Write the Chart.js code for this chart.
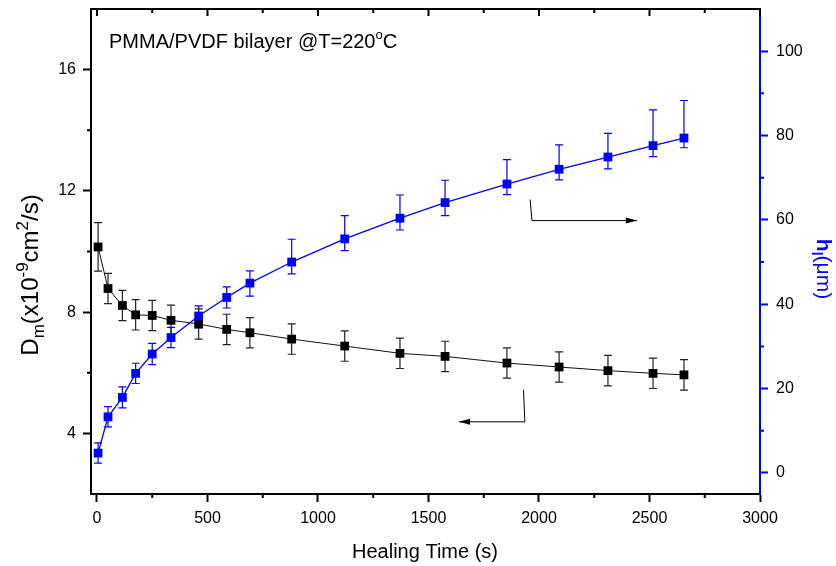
<!DOCTYPE html>
<html>
<head>
<meta charset="utf-8">
<script src="https://cdn.jsdelivr.net/npm/chart.js@4"></script>
<style>
  html, body { margin: 0; padding: 0; background: #fff; }
</style>
</head>
<body>
<canvas id="healChart" width="836" height="566"></canvas>
<script>
  // healing time (s)
  const healTime = [5, 50, 115, 175, 250, 335, 460, 587, 692, 881, 1121, 1371, 1575, 1855, 2091, 2312, 2516, 2656];
  // D_m (x10^-9 cm^2/s), left axis
  const diffCoef = [10.15, 8.78, 8.22, 7.91, 7.89, 7.73, 7.61, 7.43, 7.32, 7.11, 6.88, 6.64, 6.54, 6.32, 6.19, 6.07, 5.98, 5.93];
  const diffErr = [0.8, 0.5, 0.5, 0.5, 0.5, 0.5, 0.5, 0.5, 0.5, 0.5, 0.5, 0.5, 0.5, 0.5, 0.5, 0.5, 0.5, 0.5];
  // h_l (um), right axis
  const healDepth = [4.7, 13.3, 17.9, 23.6, 28.2, 32.1, 37.2, 41.6, 45.0, 50.0, 55.5, 60.4, 64.1, 68.5, 72.0, 74.9, 77.6, 79.4];
  const depthErrUp = [2.4, 2.4, 2.5, 2.4, 2.5, 2.4, 2.4, 2.5, 2.9, 5.4, 5.5, 5.5, 5.3, 5.8, 5.8, 5.6, 8.5, 8.9];
  const depthErrDown = [2.4, 2.4, 2.5, 2.4, 2.5, 2.4, 2.8, 2.5, 3.1, 2.8, 2.8, 2.8, 3.1, 2.5, 2.5, 2.8, 2.6, 2.3];

  const xTicks = [0, 500, 1000, 1500, 2000, 2500, 3000];
  const leftTicks = [4, 8, 12, 16];
  const rightTicks = [0, 20, 40, 60, 80, 100];

  const FONT = "'Liberation Sans', Arial, sans-serif";
  const BLUE = '#0000ff';

  // error bars per dataset index
  const errors = {
    0: { up: depthErrUp, down: depthErrDown, color: BLUE, axis: 'y2' },
    1: { up: diffErr, down: diffErr, color: '#222', axis: 'y' }
  };

  const errorBars = {
    id: 'errorBars',
    beforeDatasetsDraw(chart) {
      const ctx = chart.ctx;
      const xs = chart.scales.x;
      Object.keys(errors).forEach(function (k) {
        const e = errors[k];
        const ds = chart.data.datasets[k];
        const ys = chart.scales[e.axis];
        ctx.save();
        ctx.strokeStyle = e.color;
        ctx.lineWidth = 1.2;
        ds.data.forEach(function (p, i) {
          const x = xs.getPixelForValue(p.x);
          const y1 = ys.getPixelForValue(p.y + e.up[i]);
          const y2 = ys.getPixelForValue(p.y - e.down[i]);
          ctx.beginPath();
          ctx.moveTo(x, y1); ctx.lineTo(x, y2);
          ctx.moveTo(x - 4, y1); ctx.lineTo(x + 4, y1);
          ctx.moveTo(x - 4, y2); ctx.lineTo(x + 4, y2);
          ctx.stroke();
        });
        ctx.restore();
      });
    }
  };

  // draw text runs with sub / superscripts
  function richText(ctx, runs, x, y) {
    let cx = x;
    runs.forEach(function (r) {
      ctx.font = (r.bold ? 'bold ' : '') + r.size + 'px ' + FONT;
      ctx.fillText(r.t, cx, y + (r.dy || 0));
      cx += ctx.measureText(r.t).width;
    });
  }
  function runsWidth(ctx, runs) {
    let w = 0;
    runs.forEach(function (r) {
      ctx.font = (r.bold ? 'bold ' : '') + r.size + 'px ' + FONT;
      w += ctx.measureText(r.t).width;
    });
    return w;
  }

  const frameDecor = {
    id: 'frameDecor',
    afterDraw(chart) {
      const ctx = chart.ctx;
      const a = chart.chartArea;
      const xs = chart.scales.x, yl = chart.scales.y, yr = chart.scales.y2;
      ctx.save();
      ctx.lineWidth = 2;
      ctx.strokeStyle = '#000';
      // top border + inward ticks
      ctx.beginPath();
      ctx.moveTo(a.left - 1, a.top); ctx.lineTo(a.right, a.top);
      for (let v = 0; v <= 3000; v += 250) {
        const x = xs.getPixelForValue(v);
        const len = v % 500 === 0 ? 7 : 4;
        ctx.moveTo(x, a.top); ctx.lineTo(x, a.top + len);
      }
      // bottom minor ticks
      for (let v = 250; v < 3000; v += 500) {
        const x = xs.getPixelForValue(v);
        ctx.moveTo(x, a.bottom); ctx.lineTo(x, a.bottom + 4);
      }
      // left minor ticks
      [6, 10, 14].forEach(function (v) {
        const y = yl.getPixelForValue(v);
        ctx.moveTo(a.left, y); ctx.lineTo(a.left - 4, y);
      });
      ctx.stroke();
      // right minor ticks
      ctx.strokeStyle = BLUE;
      ctx.beginPath();
      [10, 30, 50, 70, 90].forEach(function (v) {
        const y = yr.getPixelForValue(v);
        ctx.moveTo(a.right, y); ctx.lineTo(a.right + 4, y);
      });
      ctx.stroke();

      // arrows (in data coords of x / left axis)
      ctx.strokeStyle = '#000';
      ctx.fillStyle = '#000';
      ctx.lineWidth = 1;
      function arrow(pts, dir) {
        ctx.beginPath();
        pts.forEach(function (p, i) {
          const px = xs.getPixelForValue(p[0]), py = yl.getPixelForValue(p[1]);
          if (i === 0) ctx.moveTo(px, py); else ctx.lineTo(px, py);
        });
        ctx.stroke();
        const end = pts[pts.length - 1];
        const ex = xs.getPixelForValue(end[0]), ey = yl.getPixelForValue(end[1]);
        ctx.beginPath();
        ctx.moveTo(ex, ey);
        ctx.lineTo(ex - dir * 11, ey - 3);
        ctx.lineTo(ex - dir * 11, ey + 3);
        ctx.closePath();
        ctx.fill();
      }
      arrow([[1930, 5.44], [1936, 4.38], [1638, 4.38]], -1);
      arrow([[1960, 11.71], [1968, 11.02], [2443, 11.02]], 1);

      // inner label
      ctx.fillStyle = '#000';
      ctx.textBaseline = 'alphabetic';
      ctx.textAlign = 'left';
      richText(ctx, [
        { t: 'PMMA/PVDF bilayer @T=220', size: 20 },
        { t: 'o', size: 13, dy: -9 },
        { t: 'C', size: 20 }
      ], 109, 48);

      // x title
      ctx.font = '20px ' + FONT;
      ctx.textAlign = 'center';
      ctx.fillText('Healing Time (s)', 425, 558);
      ctx.textAlign = 'left';

      // left title
      const lRuns = [
        { t: 'D', size: 24 },
        { t: 'm', size: 17, dy: 6 },
        { t: '(x10', size: 24 },
        { t: '-9', size: 17, dy: -10 },
        { t: 'cm', size: 24 },
        { t: '2', size: 17, dy: -10 },
        { t: '/s)', size: 24 }
      ];
      ctx.save();
      ctx.translate(38, 275);
      ctx.rotate(-Math.PI / 2);
      richText(ctx, lRuns, -runsWidth(ctx, lRuns) / 2, 0);
      ctx.restore();

      // right title
      const rRuns = [
        { t: 'h', size: 21, bold: true },
        { t: 'l', size: 14, bold: true, dy: 5 },
        { t: '(\u03bcm)', size: 21 }
      ];
      ctx.save();
      ctx.fillStyle = BLUE;
      ctx.translate(817, 269);
      ctx.rotate(Math.PI / 2);
      richText(ctx, rRuns, -runsWidth(ctx, rRuns) / 2, 0);
      ctx.restore();

      ctx.restore();
    }
  };

  const tickFont = { family: FONT, size: 16 };

  function fixY(w) {
    return function (s) { s.width = w; s.paddingTop = 0; s.paddingBottom = 0; };
  }

  const ctx = document.getElementById('healChart').getContext('2d');
  new Chart(ctx, {
    type: 'line',
    data: {
      datasets: [
        {
          label: 'h_l',
          data: healTime.map(function (t, i) { return { x: t, y: healDepth[i] }; }),
          yAxisID: 'y2',
          borderColor: BLUE,
          backgroundColor: BLUE,
          borderWidth: 1.3,
          pointStyle: 'rect',
          pointRadius: 6.2,
          pointBorderWidth: 0,
          tension: 0
        },
        {
          label: 'D_m',
          data: healTime.map(function (t, i) { return { x: t, y: diffCoef[i] }; }),
          yAxisID: 'y',
          borderColor: '#111',
          backgroundColor: '#000',
          borderWidth: 1,
          pointStyle: 'rect',
          pointRadius: 6.2,
          pointBorderWidth: 0,
          tension: 0
        }
      ]
    },
    options: {
      responsive: false,
      animation: false,
      layout: { padding: { top: 9, left: 0, right: 0, bottom: 0 } },
      plugins: { legend: { display: false }, tooltip: { enabled: false } },
      scales: {
        x: {
          type: 'linear',
          position: 'bottom',
          min: -27,
          max: 3000,
          afterBuildTicks: function (s) { s.ticks = xTicks.map(function (v) { return { value: v }; }); },
          ticks: { autoSkip: false, maxRotation: 0, padding: 7, color: '#000', font: tickFont,
                   callback: function (v) { return String(v); } },
          grid: { drawOnChartArea: false, tickLength: 8, tickWidth: 2, tickColor: '#000' },
          border: { color: '#000', width: 2 },
          afterFit: function (s) { s.height = 72; s.paddingLeft = 0; s.paddingRight = 0; }
        },
        y: {
          type: 'linear',
          position: 'left',
          min: 2,
          max: 18,
          afterBuildTicks: function (s) { s.ticks = leftTicks.map(function (v) { return { value: v }; }); },
          ticks: { autoSkip: false, padding: 7, color: '#000', font: tickFont,
                   callback: function (v) { return String(v); } },
          grid: { drawOnChartArea: false, tickLength: 8, tickWidth: 2, tickColor: '#000' },
          border: { color: '#000', width: 2 },
          afterFit: fixY(91)
        },
        y2: {
          type: 'linear',
          position: 'right',
          min: -5,
          max: 110,
          afterBuildTicks: function (s) { s.ticks = rightTicks.map(function (v) { return { value: v }; }); },
          ticks: { autoSkip: false, padding: 8, color: '#000', font: tickFont,
                   callback: function (v) { return String(v); } },
          grid: { drawOnChartArea: false, tickLength: 8, tickWidth: 2, tickColor: BLUE },
          border: { color: BLUE, width: 2 },
          afterFit: fixY(76)
        }
      }
    },
    plugins: [errorBars, frameDecor]
  });
</script>
</body>
</html>
